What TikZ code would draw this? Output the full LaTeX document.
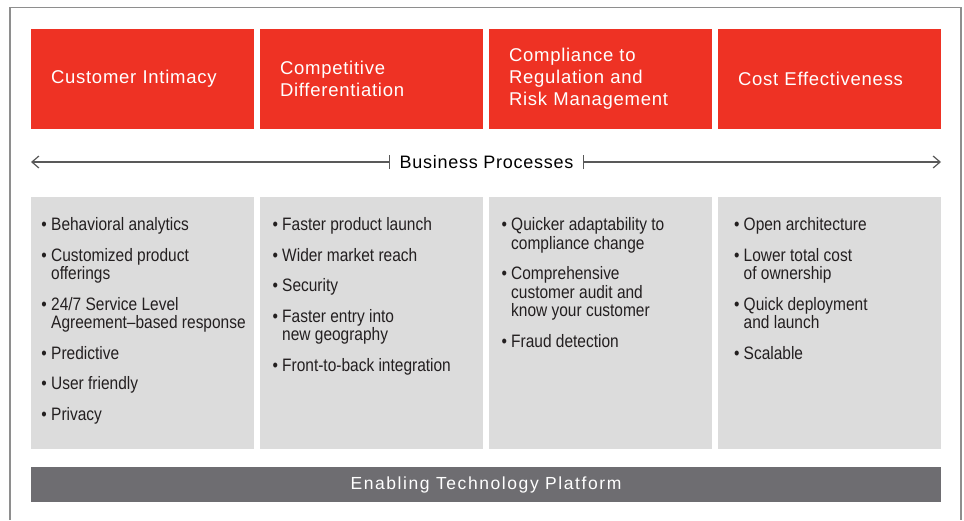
\documentclass[tikz,border=0pt]{standalone}
\usepackage{fontspec}
\setmainfont{Liberation Sans}
\newfontfamily\headfont[LetterSpace=4]{Liberation Sans}
\newfontfamily\barfont[LetterSpace=9]{Liberation Sans}
\newfontfamily\condfont[FakeStretch=0.86]{Liberation Sans}
\usepackage{tikz}
\usetikzlibrary{positioning,arrows.meta}
\usepackage{xcolor}

\definecolor{hdred}{HTML}{EE3224}
\definecolor{boxgray}{HTML}{DCDCDC}
\definecolor{bargray}{HTML}{6E6D71}
\definecolor{framegray}{HTML}{8E8E8E}
\definecolor{txtdark}{HTML}{231F20}

\newcommand{\blt}{\textbullet\ }
\newcommand{\bind}{\hphantom{\textbullet\ }}

\begin{document}
\begin{tikzpicture}[x=1pt,y=-1pt,
  head/.style={fill=hdred,text=white,minimum width=223pt,minimum height=100pt,
    text width=183pt,inner xsep=20pt,align=left,
    font=\headfont\fontsize{18.5}{22}\selectfont},
  graybox/.style={fill=boxgray,minimum width=223pt,minimum height=252pt,inner sep=0pt},
  list/.style={inner sep=0pt,align=left,text=txtdark,
    font=\condfont\fontsize{18}{18.5}\selectfont},
  bpline/.style={draw=black!65,line width=1.2pt}]

  \useasboundingbox (0,0) rectangle (964,520);
  \draw[framegray,line width=1.3pt] (10,520) |- (961,7.5) -- (961,520);

  % business drivers
  \node[head] (CuIn) at (142.5,79) {Customer Intimacy};
  \node[head] (CoDi) at (371.5,79) {Competitive\\Differentiation};
  \node[head] (CoRe) at (600.5,79) {Compliance to\\Regulation and\\Risk Management};
  \node[head] (CoEf) at (829.5,79) {Cost Effectiveness};

  % business processes
  \node[minimum width=192pt,inner sep=0pt,font=\headfont\fontsize{18}{20}\selectfont] (BuPr) at (486.5,162) {Business Processes};
  \coordinate (BuPrL) at (31,162);
  \coordinate (BuPrR) at (941,162);
  \draw[bpline,{Straight Barb[length=7pt,width=12pt]}-{Bar[width=14pt]}] (BuPrL) -- (BuPr.west);
  \draw[bpline,{Bar[width=14pt]}-{Straight Barb[length=7pt,width=12pt]}] (BuPr.east) -- (BuPrR);

  \node[graybox] (CuInB) at (142.5,323) {};
  \node[graybox] (CoDiB) at (371.5,323) {};
  \node[graybox] (CoReB) at (600.5,323) {};
  \node[graybox] (CoEfB) at (829.5,323) {};

  \node[list,below right=20.5pt and 10.5pt of CuInB.north west] (CuInL) {%
    \blt Behavioral analytics\\[12pt]
    \blt Customized product\\ \bind offerings\\[12pt]
    \blt 24/7 Service Level\\ \bind Agreement–based response\\[12pt]
    \blt Predictive\\[12pt]
    \blt User friendly\\[12pt]
    \blt Privacy};
  \node[list,below right=20.5pt and 12.5pt of CoDiB.north west] (CoDiL) {%
    \blt Faster product launch\\[12pt]
    \blt Wider market reach\\[12pt]
    \blt Security\\[12pt]
    \blt Faster entry into\\ \bind new geography\\[12pt]
    \blt Front-to-back integration};
  \node[list,below right=20.5pt and 12.5pt of CoReB.north west] (CoReL) {%
    \blt Quicker adaptability to\\ \bind compliance change\\[12pt]
    \blt Comprehensive\\ \bind customer audit and\\ \bind know your customer\\[12pt]
    \blt Fraud detection};
  \node[list,below right=20.5pt and 16pt of CoEfB.north west] (CoEfL) {%
    \blt Open architecture\\[12pt]
    \blt Lower total cost\\ \bind of ownership\\[12pt]
    \blt Quick deployment\\ \bind and launch\\[12pt]
    \blt Scalable};

  % platform
  \node[fill=bargray,text=white,minimum width=910pt,minimum height=35pt,inner sep=0pt,
    font=\barfont\fontsize{17.5}{20}\selectfont] (EnTe) at (486,484.5) {\raisebox{-1.5pt}{Enabling Technology Platform}};

\end{tikzpicture}
\end{document}
